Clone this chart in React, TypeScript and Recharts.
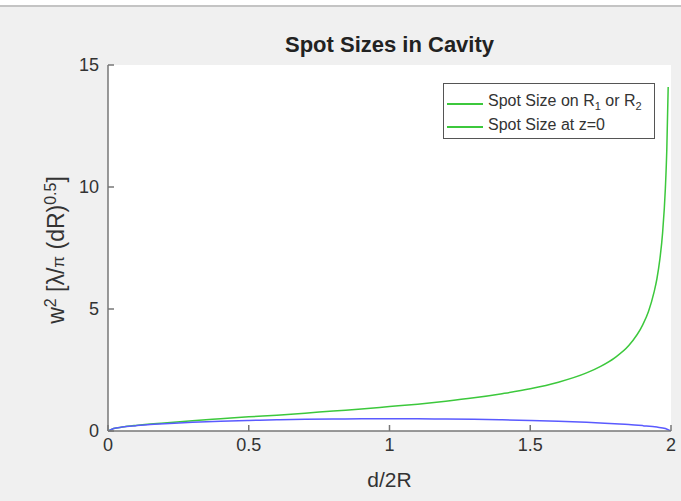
import React from "react";
import { LineChart, Line, XAxis, YAxis, CartesianGrid } from "recharts";

// d/2R samples and normalised w^2
const mirrorX = [0, 0.02, 0.05, 0.1, 0.2, 0.3, 0.4, 0.5, 0.6, 0.7, 0.8, 0.9, 1.0, 1.1, 1.2, 1.3, 1.4, 1.5, 1.6, 1.7, 1.75, 1.8, 1.85, 1.9, 1.92, 1.94, 1.95, 1.96, 1.97, 1.98, 1.985, 1.99];
const mirrorW = [0, 0.1, 0.16, 0.23, 0.33, 0.42, 0.5, 0.58, 0.65, 0.73, 0.82, 0.9, 1.0, 1.1, 1.22, 1.36, 1.53, 1.73, 2.0, 2.38, 2.65, 3.0, 3.5, 4.36, 4.9, 5.7, 6.24, 7.0, 8.1, 9.95, 11.5, 14.1];

const waistX = [0, 0.02, 0.05, 0.1, 0.15, 0.2, 0.3, 0.4, 0.5, 0.6, 0.7, 0.8, 0.9, 1.0, 1.1, 1.2, 1.3, 1.4, 1.5, 1.6, 1.7, 1.8, 1.85, 1.9, 1.95, 1.98, 2.0];
const waistW = [0, 0.1, 0.16, 0.22, 0.27, 0.3, 0.36, 0.4, 0.43, 0.46, 0.48, 0.49, 0.5, 0.5, 0.5, 0.49, 0.48, 0.46, 0.43, 0.4, 0.36, 0.3, 0.27, 0.22, 0.16, 0.1, 0];

const xTicks = [0, 0.5, 1, 1.5, 2];
const yTicks = [0, 5, 10, 15];

const mirrorData = mirrorX.map((x, i) => ({ x, w: mirrorW[i] }));
const waistData = waistX.map((x, i) => ({ x, w: waistW[i] }));

const GREEN = "#3cc83c";
const BLUE = "#5a5aff";
const AXIS = "#777";
const TEXT = "#333";
const FONT = "'Liberation Sans', Arial, sans-serif";

const XTick = (props: any) => {
  const { x, y, payload } = props;
  return (
    <g>
      <line x1={x} y1={y} x2={x} y2={y - 6} stroke={AXIS} strokeWidth={1.5} />
      <text x={x} y={y + 20} textAnchor="middle" fontSize={18} fill={TEXT} fontFamily={FONT}>
        {payload.value}
      </text>
    </g>
  );
};

const YTick = (props: any) => {
  const { x, y, payload } = props;
  return (
    <g>
      <line x1={x} y1={y} x2={x + 6} y2={y} stroke={AXIS} strokeWidth={1.5} />
      <text x={x - 9} y={y + 6} textAnchor="end" fontSize={18} fill={TEXT} fontFamily={FONT}>
        {payload.value}
      </text>
    </g>
  );
};

export default function App() {
  return (
    <div style={{ position: "absolute", left: 0, top: 0, width: 681, height: 501, background: "#fff", fontFamily: FONT }}>
      <div style={{ position: "absolute", left: 0, top: 5, width: 681, height: 2, background: "#c4c4c4" }} />
      <div style={{ position: "absolute", left: 0, top: 7, width: 681, height: 494, background: "#f0f0f0" }} />

      <div style={{ position: "absolute", left: 0, top: 0 }}>
        <LineChart width={681} height={501} margin={{ top: 65, right: 10, bottom: 40, left: 48 }}>
          <CartesianGrid horizontal={false} vertical={false} fill="#fff" />
          <XAxis
            type="number"
            dataKey="x"
            domain={[0, 2]}
            ticks={xTicks}
            height={30}
            tickSize={0}
            tickMargin={0}
            tickLine={false}
            stroke={AXIS}
            strokeWidth={1.5}
            tick={<XTick />}
            allowDataOverflow
          />
          <YAxis
            type="number"
            domain={[0, 15]}
            ticks={yTicks}
            width={60}
            tickSize={0}
            tickMargin={0}
            tickLine={false}
            stroke={AXIS}
            strokeWidth={1.5}
            tick={<YTick />}
            allowDataOverflow
          />
          <Line data={mirrorData} dataKey="w" type="monotone" stroke={GREEN} strokeWidth={1.5} dot={false} isAnimationActive={false} />
          <Line data={waistData} dataKey="w" type="monotone" stroke={BLUE} strokeWidth={1.5} dot={false} isAnimationActive={false} />
        </LineChart>
      </div>

      <div style={{ position: "absolute", left: 108, width: 563, top: 32, textAlign: "center", fontSize: 22, fontWeight: "bold", color: "#222" }}>
        Spot Sizes in Cavity
      </div>

      <div style={{ position: "absolute", left: 108, width: 563, top: 468, textAlign: "center", fontSize: 21, color: TEXT }}>
        d/2R
      </div>

      <div
        style={{
          position: "absolute",
          left: 56,
          top: 250,
          transform: "translate(-50%, -50%) rotate(-90deg)",
          whiteSpace: "nowrap",
          fontSize: 23,
          color: TEXT,
        }}
      >
        w<sup style={{ fontSize: 16 }}>2</sup> [λ/<span style={{ fontSize: 17 }}>π</span> (dR)<sup style={{ fontSize: 16 }}>0.5</sup>]
      </div>

      <div
        style={{
          position: "absolute",
          left: 443,
          top: 83,
          width: 210,
          height: 54,
          border: "1px solid #555",
          background: "#fff",
          fontSize: 16,
          color: TEXT,
        }}
      >
        <div style={{ position: "absolute", left: 3, top: 19, width: 36, height: 1.5, background: GREEN }} />
        <div style={{ position: "absolute", left: 44, top: 8, whiteSpace: "nowrap" }}>
          Spot Size on R<sub style={{ fontSize: 11 }}>1</sub> or R<sub style={{ fontSize: 11 }}>2</sub>
        </div>
        <div style={{ position: "absolute", left: 3, top: 42, width: 36, height: 1.5, background: GREEN }} />
        <div style={{ position: "absolute", left: 44, top: 32, whiteSpace: "nowrap" }}>Spot Size at z=0</div>
      </div>
    </div>
  );
}
